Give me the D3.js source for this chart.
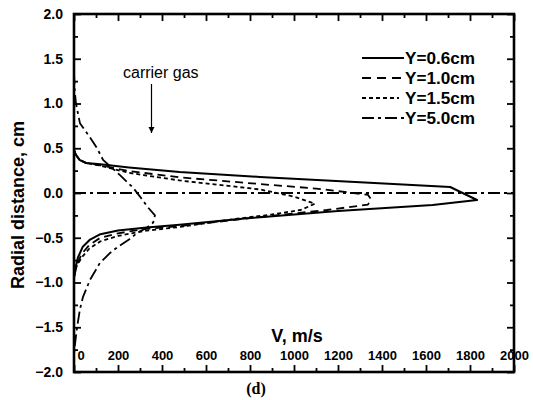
<!DOCTYPE html>
<html>
<head>
<meta charset="utf-8">
<script src="https://cdn.jsdelivr.net/npm/d3@7"></script>
<style>
  html, body { margin: 0; padding: 0; background: #fff; }
  svg { display: block; }
  text { font-family: "Liberation Sans", Arial, Helvetica, sans-serif; fill: #000; }
</style>
</head>
<body>
<svg id="chart" width="533" height="400"></svg>
<script>
// ---- data (V in m/s, r in cm) ----
const seriesNames = ["Y=0.6cm", "Y=1.0cm", "Y=1.5cm", "Y=5.0cm"];

const y06V = [0, 8, 25, 55, 120, 250, 480, 845, 1300, 1710, 1832, 1630, 1200, 800, 480, 330, 200, 120, 73, 40, 18, 6, 0];
const y06R = [0.48, 0.43, 0.37, 0.335, 0.32, 0.285, 0.235, 0.18, 0.12, 0.067, -0.078, -0.134, -0.2, -0.28, -0.355, -0.385, -0.42, -0.46, -0.52, -0.6, -0.72, -0.84, -0.95];

const y10V = [0, 8, 25, 55, 120, 250, 480, 845, 1100, 1336, 1350, 1336, 1150, 800, 480, 330, 200, 120, 70, 35, 14, 4, 0];
const y10R = [0.48, 0.43, 0.37, 0.335, 0.31, 0.245, 0.175, 0.1, 0.05, -0.02, -0.07, -0.13, -0.19, -0.28, -0.37, -0.4, -0.45, -0.5, -0.58, -0.68, -0.8, -0.9, -0.98];

const y15V = [0, 8, 25, 55, 120, 250, 480, 845, 1000, 1095, 1030, 900, 700, 480, 330, 200, 120, 70, 35, 12, 0];
const y15R = [0.48, 0.43, 0.37, 0.335, 0.305, 0.225, 0.14, 0.04, -0.04, -0.12, -0.19, -0.24, -0.3, -0.38, -0.42, -0.48, -0.54, -0.62, -0.72, -0.82, -0.9];

const y50V = [0, 3, 9, 27, 73, 105, 132, 177, 209, 268, 300, 336, 368, 360, 330, 290, 250, 200, 164, 118, 73, 41, 27, 14, 5, 0];
const y50R = [1.35, 1.15, 1.0, 0.78, 0.62, 0.5, 0.37, 0.27, 0.2, 0.06, -0.04, -0.16, -0.25, -0.33, -0.39, -0.44, -0.52, -0.6, -0.67, -0.78, -0.97, -1.16, -1.3, -1.5, -1.68, -1.8];

const centerV = [0, 2000];
const centerR = [0, 0];

const xTickValues = [0, 200, 400, 600, 800, 1000, 1200, 1400, 1600, 1800, 2000];
const xMinorValues = [100, 300, 500, 700, 900, 1100, 1300, 1500, 1700, 1900];
const yTickValues = [2.0, 1.5, 1.0, 0.5, 0.0, -0.5, -1.0, -1.5, -2.0];
const yMinorValues = [1.75, 1.25, 0.75, 0.25, -0.25, -0.75, -1.25, -1.75];

const xTitle = "V, m/s";
const yTitle = "Radial distance, cm";
const annotation = "carrier gas";
const panelLabel = "(d)";

// ---- drawing ----
const svg = d3.select("#chart");
const x = d3.scaleLinear().domain([0, 2000]).range([74, 514]);
const y = d3.scaleLinear().domain([-2, 2]).range([372, 14]);

const dashes = ["none", "8,5", "4,3", "12,4,3,4"];
const seriesData = [
  d3.zip(y06V, y06R),
  d3.zip(y10V, y10R),
  d3.zip(y15V, y15R),
  d3.zip(y50V, y50R)
];

const line = d3.line().x(d => x(d[0])).y(d => y(d[1]));

// center line (dash-dot)
svg.append("path")
  .datum(d3.zip(centerV, centerR))
  .attr("d", line)
  .attr("fill", "none").attr("stroke", "#000").attr("stroke-width", 1.8)
  .attr("stroke-dasharray", "12,4,3,4");

seriesData.forEach((data, i) => {
  svg.append("path")
    .datum(data)
    .attr("d", line)
    .attr("fill", "none")
    .attr("stroke", "#000")
    .attr("stroke-width", i === 0 ? 2 : 1.8)
    .attr("stroke-linejoin", "round")
    .attr("stroke-dasharray", dashes[i]);
});

// axes
function styleAxis(g) {
  g.select(".domain").remove();
  g.selectAll(".tick line").attr("stroke", "#000").attr("stroke-width", 1.8);
}

// bottom
svg.append("g").attr("transform", "translate(0,372)")
  .call(d3.axisBottom(x).tickValues(xTickValues).tickSize(-7).tickSizeOuter(0).tickPadding(-21)
    .tickFormat(d3.format("d")))
  .call(styleAxis)
  .call(g => g.selectAll("text")
    .attr("font-size", 13).attr("font-weight", "bold")
    .filter(d => d === 0).attr("text-anchor", "start").attr("x", 3));
svg.append("g").attr("transform", "translate(0,372)")
  .call(d3.axisBottom(x).tickValues(xMinorValues).tickSize(-4).tickFormat(""))
  .call(styleAxis);

// top
svg.append("g").attr("transform", "translate(0,14)")
  .call(d3.axisTop(x).tickValues(xTickValues).tickSize(-7).tickFormat(""))
  .call(styleAxis);
svg.append("g").attr("transform", "translate(0,14)")
  .call(d3.axisTop(x).tickValues(xMinorValues).tickSize(-4).tickFormat(""))
  .call(styleAxis);

// left
svg.append("g").attr("transform", "translate(74,0)")
  .call(d3.axisLeft(y).tickValues(yTickValues).tickSize(-7).tickPadding(11).tickFormat(d3.format(".1f")))
  .call(styleAxis)
  .call(g => g.selectAll("text").attr("font-size", 14).attr("font-weight", "bold"));
svg.append("g").attr("transform", "translate(74,0)")
  .call(d3.axisLeft(y).tickValues(yMinorValues).tickSize(-4).tickFormat(""))
  .call(styleAxis);

// right
svg.append("g").attr("transform", "translate(514,0)")
  .call(d3.axisRight(y).tickValues(yTickValues).tickSize(-7).tickFormat(""))
  .call(styleAxis);
svg.append("g").attr("transform", "translate(514,0)")
  .call(d3.axisRight(y).tickValues(yMinorValues).tickSize(-4).tickFormat(""))
  .call(styleAxis);

// frame
svg.append("rect")
  .attr("x", x(0)).attr("y", y(2))
  .attr("width", x(2000) - x(0)).attr("height", y(-2) - y(2))
  .attr("fill", "none").attr("stroke", "#000").attr("stroke-width", 2.6);

// axis titles
svg.append("text")
  .attr("transform", `translate(24,${205}) rotate(-90)`)
  .attr("text-anchor", "middle")
  .attr("font-size", 18).attr("font-weight", "bold")
  .text(yTitle);

svg.append("text")
  .attr("x", 297).attr("y", 342)
  .attr("text-anchor", "middle")
  .attr("font-size", 18).attr("font-weight", "bold")
  .text(xTitle);

svg.append("text")
  .attr("x", 256).attr("y", 394)
  .attr("text-anchor", "middle")
  .attr("font-size", 16).attr("font-weight", "bold")
  .style("font-family", "'Liberation Serif', 'Times New Roman', serif")
  .text(panelLabel);

// annotation
svg.append("text")
  .attr("x", 123).attr("y", 78)
  .attr("font-size", 16)
  .text(annotation);

svg.append("defs").append("marker")
  .attr("id", "arrowhead").attr("viewBox", "0 0 10 10")
  .attr("refX", 10).attr("refY", 5)
  .attr("markerWidth", 6).attr("markerHeight", 8)
  .attr("markerUnits", "userSpaceOnUse")
  .attr("orient", "auto")
  .append("path").attr("d", "M0,0 L10,5 L0,10 Z").attr("fill", "#000");

svg.append("line")
  .attr("x1", 151.5).attr("y1", 84).attr("x2", 151.5).attr("y2", 133)
  .attr("stroke", "#000").attr("stroke-width", 1.2)
  .attr("marker-end", "url(#arrowhead)");

// legend
const legend = svg.append("g");
seriesNames.forEach((name, i) => {
  const cy = 58 + i * 20;
  legend.append("line")
    .attr("x1", 362).attr("x2", i === 2 ? 399 : 404)
    .attr("y1", cy).attr("y2", cy)
    .attr("stroke", "#000").attr("stroke-width", 2)
    .attr("stroke-dasharray", i === 1 ? "9,6" : dashes[i]);
  legend.append("text")
    .attr("x", 405).attr("y", cy + 6)
    .attr("font-size", 16).attr("font-weight", "bold")
    .attr("textLength", 70).attr("lengthAdjust", "spacingAndGlyphs")
    .text(name);
});
</script>
</body>
</html>
